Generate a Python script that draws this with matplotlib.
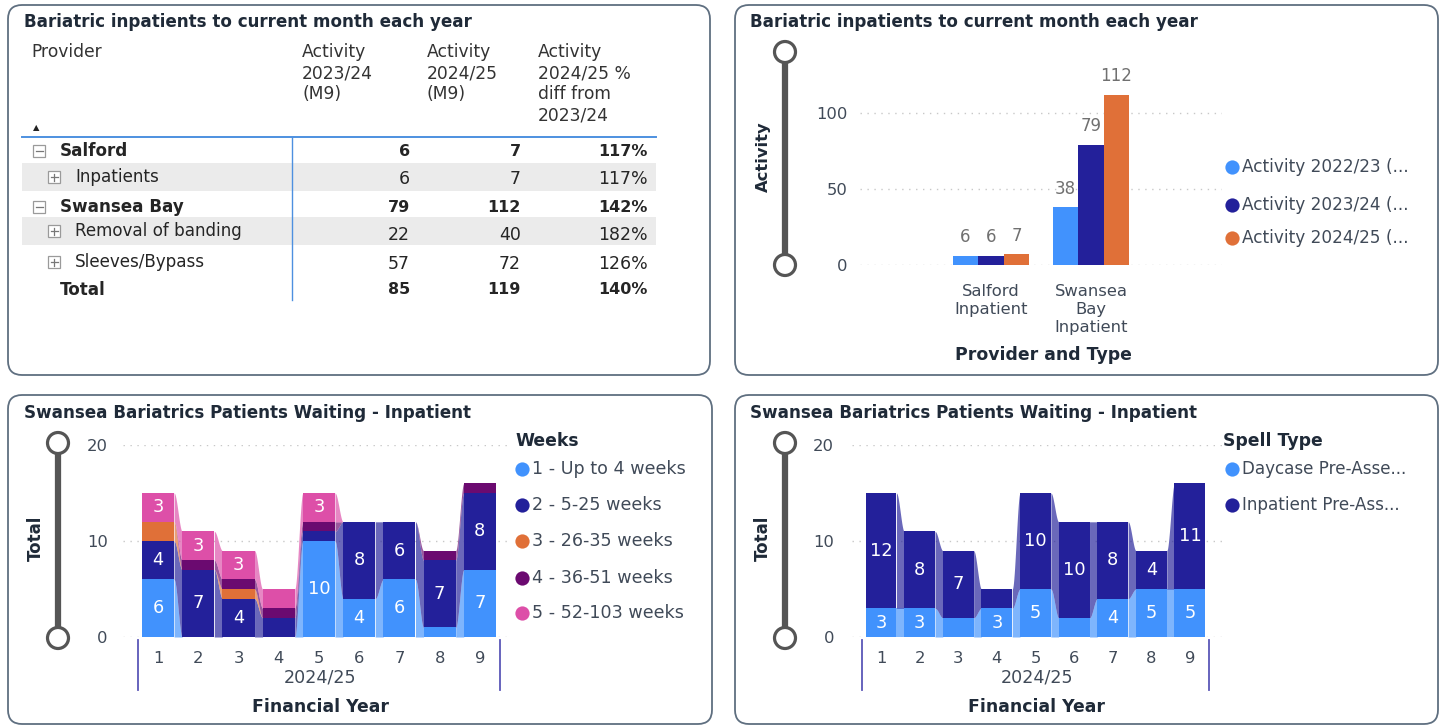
import numpy as np
import matplotlib.pyplot as plt
import matplotlib.transforms as mtransforms
from matplotlib.patches import FancyBboxPatch, Circle, Rectangle

plt.rcParams['font.family'] = ['DejaVu Sans']

# ---- data ----
# table (top left)
tbl_rows = ['Salford', 'Inpatients', 'Swansea Bay', 'Removal of banding', 'Sleeves/Bypass', 'Total']
tbl_level = [0, 1, 0, 1, 1, 2]          # 0 provider, 1 sub row, 2 total
tbl_2324 = [6, 6, 79, 22, 57, 85]
tbl_2425 = [7, 7, 112, 40, 72, 119]
tbl_diff = ['117%', '117%', '142%', '182%', '126%', '140%']

# grouped bars (top right)
providers = ['Salford\nInpatient', 'Swansea\nBay\nInpatient']
act_names = ['Activity 2022/23 (...', 'Activity 2023/24 (...', 'Activity 2024/25 (...']
act_2223 = [6, 38]
act_2324 = [6, 79]
act_2425 = [7, 112]

# ribbon chart by weeks waiting (bottom left)
months = [1, 2, 3, 4, 5, 6, 7, 8, 9]
week_names = ['1 - Up to 4 weeks', '2 - 5-25 weeks', '3 - 26-35 weeks',
              '4 - 36-51 weeks', '5 - 52-103 weeks']
wk_upto4 = [6, 0, 0, 0, 10, 4, 6, 1, 7]
wk_5_25 = [4, 7, 4, 2, 1, 8, 6, 7, 8]
wk_26_35 = [2, 0, 1, 0, 0, 0, 0, 0, 0]
wk_36_51 = [0, 1, 1, 1, 1, 0, 0, 1, 1]
wk_52_103 = [3, 3, 3, 2, 3, 0, 0, 0, 0]

# ribbon chart by spell type (bottom right)
spell_names = ['Daycase Pre-Asse...', 'Inpatient Pre-Ass...']
daycase = [3, 3, 2, 3, 5, 2, 4, 5, 5]
inpatient = [12, 8, 7, 2, 10, 10, 8, 4, 11]

LBLUE, DBLUE, ORANGE, PURPLE, PINK = '#4192fd', '#23209a', '#e07038', '#6b0a70', '#dd4fa8'
TITLE_C = '#1f2a38'
TICK_C = '#404a58'
BORDER = '#5f6f80'

W, H = 1443, 727
fig = plt.figure(figsize=(W / 100, H / 100), dpi=100)
bg = fig.add_axes([0, 0, 1, 1])
bg.set_xlim(0, W)
bg.set_ylim(H, 0)
bg.axis('off')


def px_axes(x0, y0, x1, y1):
    return fig.add_axes([x0 / W, 1 - y1 / H, (x1 - x0) / W, (y1 - y0) / H])


# panels
panels = [(8, 5, 710, 375), (735, 5, 1438, 375), (8, 395, 712, 724), (735, 395, 1438, 724)]
panel_patches = []
for x0, y0, x1, y1 in panels:
    p = FancyBboxPatch((x0, y0), x1 - x0, y1 - y0, boxstyle='round,pad=0,rounding_size=14',
                       fc='white', ec=BORDER, lw=1.3)
    bg.add_patch(p)
    panel_patches.append(p)

# faint decorative stripes in top right panel
for (xa, ya, xb, yb) in [(1300, 35, 1460, 175), (1350, -5, 1460, 95)]:
    ln, = bg.plot([xa, xb], [ya, yb], color='#eef2fa', lw=22, solid_capstyle='round', zorder=0.5)
    ln.set_clip_path(panel_patches[1])

# titles
for x, y, s in [(24, 22, 'Bariatric inpatients to current month each year'),
                (750, 22, 'Bariatric inpatients to current month each year'),
                (24, 413, 'Swansea Bariatrics Patients Waiting - Inpatient'),
                (750, 413, 'Swansea Bariatrics Patients Waiting - Inpatient')]:
    bg.text(x, y, s, fontsize=12.1, fontweight='bold', color=TITLE_C, va='center')

# ---- table ----
HDR_C = '#333333'
bg.text(31, 52, 'Provider', fontsize=12.3, color=HDR_C, va='center')
for x, lines in [(302, ['Activity', '2023/24', '(M9)']),
                 (427, ['Activity', '2024/25', '(M9)']),
                 (538, ['Activity', '2024/25 %', 'diff from', '2023/24'])]:
    for k, s in enumerate(lines):
        bg.text(x, 52 + 21 * k, s, fontsize=12.3, color=HDR_C, va='center')
bg.text(36, 128, '\u25b2', fontsize=6, color='#222', ha='center', va='center')

row_y = [151, 177, 207, 231, 262, 290]
num_y = [151, 179, 207, 235, 264, 290]
for yy in (row_y[1], row_y[3]):
    bg.add_patch(Rectangle((22, yy - 14), 634, 28, fc='#ebebeb', ec='none'))
bg.plot([22, 656], [137, 137], color='#4d90e0', lw=1.4)
bg.plot([292, 292], [137, 300], color='#4d90e0', lw=1.0)

for name, lvl, ry, ny, a, b, d in zip(tbl_rows, tbl_level, row_y, num_y, tbl_2324, tbl_2425, tbl_diff):
    bold = lvl != 1
    fw = 'bold' if bold else 'normal'
    fs = 11.5 if bold else 12.5
    if lvl == 0:
        bx, tx = 39, 60
    elif lvl == 1:
        bx, tx = 54, 75
    else:
        bx, tx = None, 60
    if bx is not None:
        bg.add_patch(Rectangle((bx - 6, ry - 6), 12, 12, fc='white', ec='#9a9a9a', lw=0.9))
        bg.plot([bx - 3.5, bx + 3.5], [ry, ry], color='#777', lw=0.9)
        if lvl == 1:
            bg.plot([bx, bx], [ry - 3.5, ry + 3.5], color='#777', lw=0.9)
    bg.text(tx, ry, name, fontsize=12.1, fontweight=fw, color='#252525', va='center')
    for x, v in [(410, str(a)), (521, str(b)), (648, d)]:
        bg.text(x, ny, v, fontsize=fs, fontweight=fw, color='#252525', va='center', ha='right')


# ---- helpers ----
def slider(x, ytop, ybot):
    bg.plot([x, x], [ytop, ybot], color='#555555', lw=4.5, solid_capstyle='butt', zorder=2)
    for yy in (ytop, ybot):
        bg.add_patch(Circle((x, yy), 10.5, fc='white', ec='#555555', lw=2.3, zorder=3))


def style_axes(ax, ypad):
    for s in ax.spines.values():
        s.set_visible(False)
    ax.yaxis.grid(True, color='#c8c8c8', linestyle=(0, (1, 4)), lw=1)
    ax.set_axisbelow(True)
    ax.tick_params(axis='both', length=0, labelcolor=TICK_C, labelsize=11.8)
    ax.tick_params(axis='y', pad=ypad)
    ax.patch.set_alpha(0)


def ribbon_chart(ax, series, colors, width=0.8):
    x = np.array(months, dtype=float)
    bottom = np.zeros(len(x))
    t = np.linspace(0, 1, 40)
    s = t * t * (3 - 2 * t)
    for vals, col in zip(series, colors):
        vals = np.array(vals, dtype=float)
        lo, hi = bottom, bottom + vals
        for i in range(len(x) - 1):
            xa, xb = x[i] + width / 2, x[i + 1] - width / 2
            xs = xa + (xb - xa) * t
            ax.fill_between(xs, lo[i] + (lo[i + 1] - lo[i]) * s, hi[i] + (hi[i + 1] - hi[i]) * s,
                            color=col, alpha=0.68, lw=0, zorder=2)
        ax.bar(x, vals, width, bottom=lo, color=col, zorder=3)
        for xi, v, b in zip(x, vals, lo):
            if v >= 3:
                ax.text(xi, b + v / 2, f'{int(v)}', color='white', fontsize=12.8,
                        ha='center', va='center', zorder=4)
        bottom = hi
    ax.set_xticks(months)
    ax.set_yticks([0, 10, 20])
    ax.set_ylim(0, 20)
    trans = mtransforms.blended_transform_factory(ax.transData, ax.transAxes)
    for xv in (0.5, 9.5):
        ax.plot([xv, xv], [-0.015, -0.275], transform=trans, clip_on=False, color='#5b57b8', lw=1.3)


# ---- top right grouped bars ----
ax1 = px_axes(860, 82.6, 1222, 265)
style_axes(ax1, 9)
xg = np.arange(len(providers))
bw = 0.255
for k, (vals, col) in enumerate(zip([act_2223, act_2324, act_2425], [LBLUE, DBLUE, ORANGE])):
    xs = xg + (k - 1) * bw
    ax1.bar(xs, vals, bw, color=col, zorder=3)
    for xx, v in zip(xs, vals):
        ax1.annotate(str(v), (xx, v), xytext=(0, 7), textcoords='offset points', ha='center',
                     va='bottom', fontsize=12, color='#707070')
ax1.set_xlim(-1.31, 2.31)
ax1.set_ylim(0, 120)
ax1.set_yticks([0, 50, 100])
ax1.set_xticks(xg)
ax1.set_xticklabels(providers, linespacing=1.25)
ax1.tick_params(axis='x', pad=14)
slider(785, 52, 265)
bg.text(763, 157, 'Activity', rotation=90, fontsize=11.8, fontweight='bold', color=TITLE_C,
        ha='center', va='center')
bg.text(1043, 355, 'Provider and Type', fontsize=12.4, fontweight='bold', color=TITLE_C,
        ha='center', va='center')
for yy, name, col in zip([167, 205, 238], act_names, [LBLUE, DBLUE, ORANGE]):
    bg.scatter([1232], [yy], s=105, color=col, zorder=3, lw=0)
    bg.text(1242, yy, name, fontsize=12.2, color=TICK_C, va='center')

# ---- bottom left ribbon ----
ax2 = px_axes(123, 445, 510, 637)
style_axes(ax2, 11)
ribbon_chart(ax2, [wk_upto4, wk_5_25, wk_26_35, wk_36_51, wk_52_103],
             [LBLUE, DBLUE, ORANGE, PURPLE, PINK])
ax2.set_xlim(0.13, 9.75)
ax2.tick_params(axis='x', pad=10)
slider(58, 443, 638)
bg.text(36, 538, 'Total', rotation=90, fontsize=12, fontweight='bold', color=TITLE_C,
        ha='center', va='center')
bg.text(320, 677, '2024/25', fontsize=12.6, color=TICK_C, ha='center', va='center')
bg.text(320, 707, 'Financial Year', fontsize=12.4, fontweight='bold', color=TITLE_C,
        ha='center', va='center')
bg.text(515, 441, 'Weeks', fontsize=12.4, fontweight='bold', color=TITLE_C, va='center')
for yy, name, col in zip([469, 505, 541, 578, 613], week_names,
                         [LBLUE, DBLUE, ORANGE, PURPLE, PINK]):
    bg.scatter([522], [yy], s=105, color=col, zorder=3, lw=0)
    bg.text(532, yy, name, fontsize=12.6, color=TICK_C, va='center')

# ---- bottom right ribbon ----
ax3 = px_axes(852, 445, 1222, 637)
style_axes(ax3, 13)
ribbon_chart(ax3, [daycase, inpatient], [LBLUE, DBLUE])
ax3.set_xlim(0.25, 9.83)
ax3.tick_params(axis='x', pad=10)
slider(785, 443, 638)
bg.text(763, 538, 'Total', rotation=90, fontsize=12, fontweight='bold', color=TITLE_C,
        ha='center', va='center')
bg.text(1037, 677, '2024/25', fontsize=12.6, color=TICK_C, ha='center', va='center')
bg.text(1037, 707, 'Financial Year', fontsize=12.4, fontweight='bold', color=TITLE_C,
        ha='center', va='center')
bg.text(1223, 441, 'Spell Type', fontsize=12.4, fontweight='bold', color=TITLE_C, va='center')
for yy, name, col in zip([469, 505], spell_names, [LBLUE, DBLUE]):
    bg.scatter([1232], [yy], s=105, color=col, zorder=3, lw=0)
    bg.text(1242, yy, name, fontsize=12.1, color=TICK_C, va='center')

fig.savefig('out.png', dpi=100)
